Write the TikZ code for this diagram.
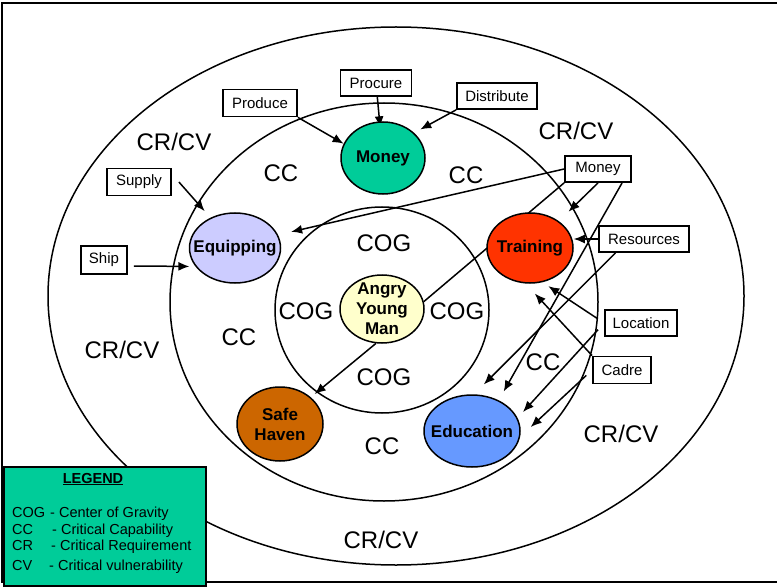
\documentclass[tikz,border=0pt]{standalone}
\usepackage{fontspec}
\setmainfont{Liberation Sans}
\usepackage{tikz}
\usetikzlibrary{calc}
\usetikzlibrary{positioning}
\usetikzlibrary{shapes.geometric}
\usetikzlibrary{arrows.meta}
\usetikzlibrary{backgrounds}
\definecolor{moneygreen}{HTML}{00CC99}
\definecolor{equiplilac}{HTML}{CCCCFF}
\definecolor{trainred}{HTML}{FF3300}
\definecolor{angrycream}{HTML}{FFFFCC}
\definecolor{havenbrown}{HTML}{CC6600}
\definecolor{edublue}{HTML}{6699FF}
\tikzstyle{blobnode} = [draw, ellipse, line width=1.5bp, inner sep=0pt]
\tikzstyle{blobtext} = [font=\fontsize{17bp}{20bp}\selectfont\bfseries, align=center, inner sep=0pt]
\tikzstyle{tagnode} = [draw, rectangle, line width=1.8bp, fill=white, inner sep=0pt, font=\fontsize{15bp}{18bp}\selectfont]
\tikzstyle{ringtext} = [font=\fontsize{24bp}{28bp}\selectfont, text height=17bp, text depth=0pt, inner sep=0pt]
\tikzstyle{ringline} = [line width=1.5bp]
\tikzstyle{feed} = [line width=1.5bp, >={Latex[length=11bp,width=9bp]}, ->]
\tikzstyle{legtext} = [font=\fontsize{14.5bp}{17bp}\selectfont, anchor=base west, inner sep=0pt]

\begin{document}
\begin{tikzpicture}[x=1bp, y=-1bp]
    \useasboundingbox (0,0) rectangle (777,587);
    \draw[line width=2bp] (790,3) -- (2,3) -- (2,582) -- (790,582);

    % rings
    \draw[ringline] (396,296) ellipse [x radius=348, y radius=269];
    \draw[ringline] (384,302) ellipse [x radius=214, y radius=199];
    \draw[ringline] (382,310) ellipse [x radius=107, y radius=103];

    \node[ringtext] (crcv_nw) at (174,142) {CR/CV};
    \node[ringtext] (crcv_ne) at (576,131) {CR/CV};
    \node[ringtext] (crcv_w) at (122,350) {CR/CV};
    \node[ringtext] (crcv_se) at (621,434) {CR/CV};
    \node[ringtext] (crcv_s) at (381,540) {CR/CV};
    \node[ringtext] (cc_nw) at (281,173) {CC};
    \node[ringtext] (cc_ne) at (466,175) {CC};
    \node[ringtext] (cc_w) at (239,337) {CC};
    \node[ringtext] (cc_e) at (543,362) {CC};
    \node[ringtext] (cc_s) at (382,446) {CC};
    \node[ringtext] (cog_n) at (384,243) {COG};
    \node[ringtext] (cog_w) at (306,311) {COG};
    \node[ringtext] (cog_e) at (457,311) {COG};
    \node[ringtext] (cog_s) at (384,377) {COG};

    % capabilities
    \node[blobnode, fill=moneygreen, minimum width=84bp, minimum height=72bp, label={[blobtext]center:Money}] (money) at (383,158) {};
    \node[blobnode, fill=equiplilac, minimum width=91bp, minimum height=70bp, label={[blobtext]center:Equipping}] (equipping) at (235,248) {};
    \node[blobnode, fill=trainred, minimum width=86bp, minimum height=70bp, label={[blobtext]center:Training}] (training) at (530,248) {};
    \node[blobnode, fill=angrycream, minimum width=84bp, minimum height=68bp, label={[blobtext]center:Angry\\Young\\Man}] (angry) at (382,309) {};
    \node[blobnode, fill=havenbrown, minimum width=86bp, minimum height=74bp, label={[blobtext]center:Safe\\Haven}] (safehaven) at (280,424) {};
    \node[blobnode, fill=edublue, minimum width=96bp, minimum height=72bp, label={[blobtext]center:Education}] (education) at (472,431) {};

    % requirements
    \node[tagnode, minimum width=71bp, minimum height=26bp] (procure) at ($(money)+(-7,-75)$) {Procure};
    \node[tagnode, minimum width=74bp, minimum height=27bp] (produce) at ($(money)+(-123,-55)$) {Produce};
    \node[tagnode, minimum width=80bp, minimum height=26bp] (distribute) at ($(money)+(114,-62)$) {Distribute};
    \node[tagnode, minimum width=66bp, minimum height=26bp] (moneybox) at ($(training)+(68,-79)$) {Money};
    \node[tagnode, minimum width=90bp, minimum height=26bp] (resources) at ($(training)+(114,-9)$) {Resources};
    \node[tagnode, minimum width=72bp, minimum height=26bp] (location) at ($(training)+(111,75)$) {Location};
    \node[tagnode, minimum width=58bp, minimum height=27bp] (cadre) at ($(training)+(92,122)$) {Cadre};
    \node[tagnode, minimum width=64bp, minimum height=27bp] (supply) at ($(equipping)+(-96,-66)$) {Supply};
    \node[tagnode, minimum width=46bp, minimum height=28bp] (ship) at ($(equipping)+(-131,12)$) {Ship};

    \begin{scope}[on background layer]
    \draw[feed] (produce.south east) -- (money.160);
    \draw[feed, shorten >=-6bp] (procure) -- (money);
    \draw[feed, shorten >=7bp] (distribute.south west) -- (money.39);
    \draw[feed, shorten >=8.7bp] ([xshift=7bp]supply.east) -- (equipping.129);
    \draw[feed, shorten >=6bp] ([shift={(6bp,-6bp)}]ship.east) -- (equipping.205);
    \draw[feed, shorten >=13.5bp] (moneybox.west) -- (equipping.17);
    \draw[feed, shorten >=13.5bp] (moneybox.south) -- (training.43);
    \draw[line width=1.5bp] (moneybox.south west) -- (angry.10);
    \draw[feed, shorten >=10bp] (moneybox.-30) -- (education.49);
    \draw[feed] (resources.west) -- (resources.west -| training.east);
    \draw[feed, shorten >=14bp] (resources.206) -- (education.87);
    \draw[feed, shorten <=8bp, shorten >=7bp] (location.west) -- (training.-70);
    \draw[feed, shorten <=9bp, shorten >=8bp] (location.west) -- (education.16);
    \draw[feed, shorten >=13.5bp] (cadre.north west) -- (training.-97);
    \draw[feed, shorten <=8bp, shorten >=14.5bp] (cadre.west) -- (education.-7);
    \draw[feed, shorten >=5bp] (angry.-100) -- (safehaven.41);
    \end{scope}

    % legend
    \node[draw, line width=2bp, fill=moneygreen, minimum width=202bp, minimum height=119bp, anchor=north west, inner sep=0pt] (legend) at (3,466) {};
    \node[font=\fontsize{14.5bp}{17bp}\selectfont\bfseries, anchor=base, inner sep=0pt] (leg_title) at ($(legend.north west)+(90,17)$) {\underline{LEGEND}};
    \node[legtext] (leg_cog) at ($(legend.north west)+(9,51)$) {\makebox[38bp][l]{COG}- Center of Gravity};
    \node[legtext] (leg_cc) at ($(legend.north west)+(9,68)$) {\makebox[40bp][l]{CC}- Critical Capability};
    \node[legtext] (leg_cr) at ($(legend.north west)+(9,84)$) {\makebox[39bp][l]{CR}- Critical Requirement};
    \node[legtext] (leg_cv) at ($(legend.north west)+(9,104)$) {\makebox[37bp][l]{CV}- Critical vulnerability};
\end{tikzpicture}
\end{document}
